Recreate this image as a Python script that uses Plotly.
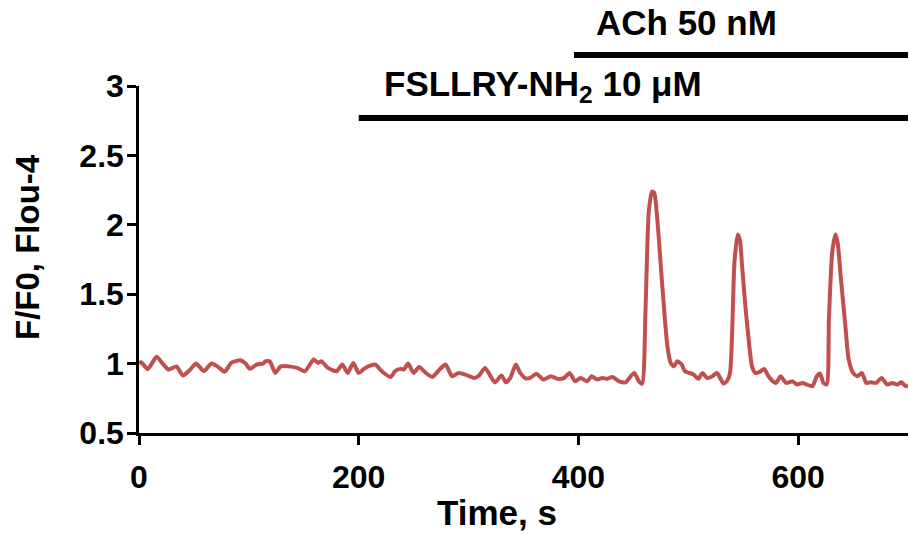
import plotly.graph_objects as go

# Fluo-4 calcium trace (F/F0) over time
time_s = [0, 2, 8, 16, 21, 27, 34, 40, 46, 52, 59, 66, 72, 78, 84, 92, 97, 101, 107, 113,
          115, 119, 124, 129, 136, 144, 151, 159, 163, 166, 172, 180, 185, 190, 195, 200,
          206, 215, 221, 229, 233, 238, 241, 245, 250, 255, 261, 267, 273, 279, 285, 291,
          297, 305, 309, 315, 320, 324, 330, 334, 338, 343, 347, 352, 356, 362, 368, 375,
          381, 387, 392, 397, 402, 408, 412, 417, 422, 426, 431, 437, 443, 448, 451, 455,
          458, 461, 464, 467, 469, 472, 475, 478, 481, 484, 487, 490, 494, 497, 501, 505,
          509, 513, 517, 522, 526, 529, 532, 535, 538, 540, 542, 545, 547, 549, 552, 555,
          558, 561, 565, 569, 573, 577, 580, 584, 589, 595, 599, 604, 608, 613, 617, 620,
          623, 626, 628, 631, 634, 636, 639, 643, 646, 650, 654, 658, 662, 666, 671, 676,
          681, 686, 690, 694, 698, 700]
ratio = [1.00, 1.01, 0.96, 1.05, 1.005, 0.957, 0.98, 0.914, 0.952, 1.00, 0.945, 1.00, 0.976,
         0.942, 1.005, 1.024, 1.00, 0.962, 0.993, 1.00,
         1.017, 1.017, 0.933, 0.98, 0.98, 0.969, 0.945, 1.029, 1.005, 1.017, 0.969, 0.945,
         0.993, 0.933, 1.005, 0.933,
         0.969, 0.993, 0.945, 0.904, 0.945, 0.962, 0.957, 1.00, 0.933, 0.976, 0.933, 0.904,
         0.952, 0.993, 0.909, 0.933,
         0.921, 0.897, 0.909, 0.969, 0.909, 0.865, 0.914, 0.865, 0.897, 0.993, 0.933, 0.893,
         0.897, 0.926, 0.885, 0.909,
         0.89, 0.897, 0.933, 0.872, 0.897, 0.872, 0.909, 0.885, 0.897, 0.89, 0.904, 0.872,
         0.865, 0.914, 0.933, 0.872,
         0.856, 1.37, 2.09, 2.24, 2.23, 2.02, 1.70, 1.39, 1.125, 1.005, 0.98, 1.017, 0.993,
         0.945, 0.933, 0.921,
         0.89, 0.933, 0.897, 0.909, 0.933, 0.897, 0.856, 0.872, 0.933, 1.245, 1.725, 1.93,
         1.89, 1.70, 1.41, 1.17,
         0.98, 0.933, 0.94, 0.962, 0.909, 0.872, 0.861, 0.909, 0.861, 0.872, 0.849, 0.861,
         0.849, 0.837, 0.909, 0.928,
         0.861, 0.849, 1.317, 1.80, 1.93, 1.87, 1.605, 1.27, 1.03, 0.933, 0.909, 0.933,
         0.861, 0.865, 0.861, 0.897,
         0.849, 0.861, 0.849, 0.865, 0.837, 0.845]

# Drug application periods (start, end in s)
fsllry_on = [200, 700]
ach_on = [396, 700]

x_ticks = [0, 200, 400, 600]
y_ticks = [0.5, 1, 1.5, 2, 2.5, 3]

FONT = "Liberation Sans, Arial, sans-serif"
RED = "#C0504D"

fig = go.Figure()
fig.add_trace(go.Scatter(
    x=time_s, y=ratio, mode="lines",
    line=dict(color=RED, width=4, shape="spline", smoothing=0.6),
    showlegend=False, hoverinfo="x+y",
))

axis_common = dict(
    showgrid=False, zeroline=False, showline=True, linecolor="black", linewidth=2.5,
    ticks="outside", ticklen=9, tickwidth=2.5, tickcolor="black",
    tickfont=dict(family=FONT, size=32, color="black", weight="bold"),
)

fig.update_layout(
    width=909, height=536,
    margin=dict(l=139, r=1, t=86, b=103),
    paper_bgcolor="white", plot_bgcolor="white",
    xaxis=dict(range=[0, 700], tickvals=x_ticks, ticklabelstandoff=5, **axis_common),
    yaxis=dict(range=[0.5, 3], tickvals=y_ticks, ticklabelstandoff=-3, **axis_common),
    showlegend=False,
)

# Treatment bars
fig.add_shape(type="line", xref="x", yref="paper", x0=fsllry_on[0], x1=fsllry_on[1],
              y0=0.9078, y1=0.9078, line=dict(color="black", width=6))
fig.add_shape(type="line", xref="x", yref="paper", x0=ach_on[0], x1=ach_on[1],
              y0=1.0893, y1=1.0893, line=dict(color="black", width=6))

label_font = dict(family=FONT, size=35, color="black", weight="bold")
fig.add_annotation(text="FSLLRY-NH<sub>2</sub> 10 μM", xref="x", yref="paper",
                   x=fsllry_on[0] + 21, y=1.0, xanchor="left", yanchor="middle",
                   showarrow=False, font=label_font)
fig.add_annotation(text="ACh 50 nM", xref="x", yref="paper",
                   x=ach_on[0] + 18, y=1.183, xanchor="left", yanchor="middle",
                   showarrow=False, font=label_font)

# Axis titles
fig.add_annotation(text="Time, s", xref="paper", yref="paper",
                   x=(497 - 139) / 769, y=(433 - 512) / 347, xanchor="center", yanchor="middle",
                   showarrow=False, font=label_font)
fig.add_annotation(text="F/F0, Flou-4", xref="paper", yref="paper",
                   x=(27 - 139) / 769, y=(433 - 247) / 347, xanchor="center", yanchor="middle",
                   textangle=-90, showarrow=False,
                   font=dict(family=FONT, size=33, color="black", weight="bold"))

fig.write_html("out.html")
